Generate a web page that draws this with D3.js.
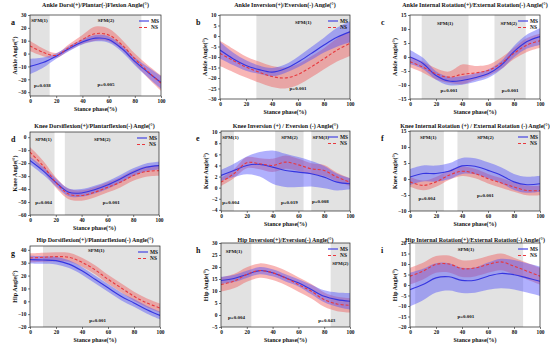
<!DOCTYPE html>
<html>
<head>
<meta charset="utf-8">
<script src="https://cdn.jsdelivr.net/npm/d3@7"></script>
<style>
  body { margin: 0; background: #fff; }
  text { font-family: "Liberation Serif", "Times New Roman", serif; font-weight: bold; fill: #111; }
  .axis path, .axis line { stroke: #222; stroke-width: 0.6; }
  .axis text { font-size: 5.4px; }
</style>
</head>
<body>
<div id="graph"></div>
<script>
// stance phase samples (%)
var phase = [0, 10, 20, 30, 40, 50, 60, 70, 80, 90, 100];

// a - ankle dorsi/plantar flexion
var aMS = [-10, -7, -2, 4, 9, 12, 11, 4, -6, -14.5, -22.5];
var aMSsd = [6, 4, 2, 2, 2, 2.5, 2.5, 2.5, 3, 4, 5];
var aNS = [6, 1, -1.5, 5, 11, 15.5, 14.5, 7, -4, -14, -23];
var aNSsd = [4, 3, 2, 2.5, 3.5, 5.5, 5, 4, 4, 5, 6];
// b - ankle inversion/eversion
var bMS = [-6.7, -10.8, -14, -16, -17.2, -15.6, -12.4, -8.4, -4.3, -0.6, 2];
var bMSsd = [4, 3, 2.5, 2, 2, 2, 2.5, 3, 3.5, 4.5, 5];
var bNS = [-8.3, -11.6, -14.8, -17.2, -19.3, -20, -18.3, -14.8, -10.8, -6.7, -3.5];
var bNSsd = [6, 5.5, 5, 5, 5, 5, 5, 5, 5, 5.5, 6];
// c - ankle int/ext rotation
var cMS = [0, -2.3, -6.6, -8.6, -8.4, -7.4, -6, -3, 1.9, 5.5, 7.3];
var cMSsd = [2.5, 2, 1.5, 1.5, 1.5, 1.5, 1.5, 1.5, 2, 2.5, 3];
var cNS = [-1.7, -3.6, -6, -7.2, -6.2, -5.7, -4.8, -2.3, 1.3, 4.3, 5.8];
var cNSsd = [2, 2, 2, 2, 3.5, 2.5, 2, 2, 2, 2.5, 2.5];
// d - knee dorsi/plantar flexion
var dMS = [-18, -25.8, -34.8, -42.5, -43, -40.5, -36.9, -32.2, -27, -23.2, -21.9];
var dMSsd = [3, 3, 3, 3, 3, 3, 3, 3, 3, 3, 3];
var dNS = [-11.6, -21.9, -34.8, -43.8, -45, -42.5, -38.7, -34.8, -29.6, -26.5, -25.8];
var dNSsd = [4, 4, 4, 4, 4, 4, 4, 4, 4, 4, 4];
// e - knee inversion/eversion
var eMS = [2.2, 3.1, 4, 4.2, 3.7, 3.1, 2.8, 2.5, 1.9, 1, 0.7];
var eMSsd = [1, 1.2, 1.6, 2.2, 3, 3, 2.7, 2.3, 2, 1.5, 1];
var eNS = [1, 2.5, 4.5, 4.3, 4, 4.6, 4.1, 3.4, 3.1, 1.9, 1];
var eNSsd = [0.7, 0.8, 1, 1, 1.2, 1.2, 1.1, 1, 1, 0.8, 0.7];
// f - knee int/ext rotation
var fMS = [0.6, 1.7, 1.7, 2.4, 4.1, 4, 2.7, 1.2, -0.9, -1.8, -1.5];
var fMSsd = [2.5, 2.5, 2.5, 2.5, 2.5, 2.5, 2.5, 2.5, 2.5, 2.5, 2.5];
var fNS = [-0.9, -2, -0.9, 1.2, 2.4, 1.7, 0.1, -1.2, -2.5, -3.6, -3.6];
var fNSsd = [1.5, 1.5, 1.5, 1.5, 1.5, 1.5, 1.5, 1.5, 1.5, 1.5, 1.5];
// g - hip flexion
var gMS = [32.4, 32.1, 31.6, 28.9, 23.7, 17.1, 10.5, 3.9, -1.3, -6.6, -11];
var gMSsd = [3, 3, 3, 3, 3, 3, 3, 3, 3, 3, 3];
var gNS = [33.7, 34.2, 34.7, 34.2, 30.3, 24.5, 17.1, 10.5, 3.9, -1.3, -5.3];
var gNSsd = [3.5, 3.5, 3.5, 3.5, 3.5, 3.5, 3.5, 3.5, 3.5, 3.5, 3.5];
// h - hip inversion/eversion
var hMS = [14.4, 15.2, 16.9, 18.5, 17.6, 15.5, 13.4, 10.6, 7.8, 6.4, 5.7];
var hMSsd = [1.5, 1.5, 1.5, 1.5, 1.5, 1.5, 1.5, 2, 2.5, 3, 3.5];
var hNS = [12.7, 14.1, 16.9, 18.5, 17.6, 15.5, 12.7, 9.9, 6.4, 4.6, 4];
var hNSsd = [3, 3, 3, 3, 3, 3, 3, 3, 3, 3, 3];
// i - hip int/ext rotation
var iMS = [-2.2, 0.2, 3.4, 3.9, 2.2, 2.3, 4.2, 5.5, 4.9, 3.4, 1.8];
var iMSsd = [8, 7.5, 7, 6.5, 6, 6, 6.5, 7, 7, 7, 7];
var iNS = [4.2, 6.6, 9.8, 10, 7.8, 8.1, 9.8, 11, 9, 6.6, 4.2];
var iNSsd = [4, 4, 4, 4, 4, 4, 4, 4, 4, 4, 4];

// significant SPM clusters (% stance)
var aSPM = [[0, 15], [38, 85]];
var bSPM = [[28, 100]];
var cSPM = [[9, 45], [65, 89]];
var dSPM = [[0, 19], [27, 100]];
var eSPM = [[0, 10], [42, 64], [70, 100]];
var fSPM = [[0, 26], [36.5, 100]];
var gSPM = [[10, 100]];
var hSPM = [[0, 23.5], [85, 100]];
var iSPM = [[4, 87]];

var xTicks = [0, 20, 40, 60, 80, 100];

var panels = [
  {id: "a", title: "Ankle Dorsi(+)/Plantar(-)Flexion Angle(°)", ylab: "Ankle Angle(°)",
   ms: aMS, mssd: aMSsd, ns: aNS, nssd: aNSsd, spm: aSPM,
   box: [30, 161, 15, 96], dom: [-33, 30], yt: d3.range(-30, 31, 10), ty: 7,
   notes: [["SPM(1)", 1, 26, "start"], ["SPM(2)", 58, 26, "middle"], ["p=0.038", 3, -25, "start"], ["p=0.005", 58, -24, "middle"]]},
  {id: "b", title: "Ankle Inversion(+)/Eversion(-) Angle(°)", ylab: "Ankle Angle(°)",
   ms: bMS, mssd: bMSsd, ns: bNS, nssd: bNSsd, spm: bSPM,
   box: [220, 350, 15, 99], dom: [-30, 10], yt: d3.range(-30, 11, 5), ty: 7,
   notes: [["SPM(1)", 64, 6.5, "middle"], ["p=0.001", 60, -25, "middle"]]},
  {id: "c", title: "Ankle Internal Rotation(+)/External Rotation(-) Angle(°)", ylab: "Ankle Angle(°)",
   ms: cMS, mssd: cMSsd, ns: cNS, nssd: cNSsd, spm: cSPM,
   box: [410, 540, 15, 99], dom: [-15, 15], yt: d3.range(-15, 16, 5), ty: 7,
   notes: [["SPM(1)", 27, 12, "middle"], ["SPM(2)", 76, 12, "middle"], ["p=0.001", 30, -12, "middle"], ["p=0.001", 77, -12, "middle"]]},
  {id: "d", title: "Knee Dorsiflexion(+)/Plantarflexion(-) Angle(°)", ylab: "Knee Angle(°)",
   ms: dMS, mssd: dMSsd, ns: dNS, nssd: dNSsd, spm: dSPM,
   box: [30, 159, 132, 215], dom: [-60, 4], yt: d3.range(-60, 1, 10), ty: 128,
   notes: [["SPM(1)", 4, -1.5, "start"], ["SPM(2)", 56, -1.5, "middle"], ["p=0.004", 4, -50.5, "start"], ["p=0.001", 63, -50.5, "middle"]]},
  {id: "e", title: "Knee Inversion (+) / Eversion (-) Angle(°)", ylab: "Knee Angle(°)",
   ms: eMS, mssd: eMSsd, ns: eNS, nssd: eNSsd, spm: eSPM,
   box: [221, 350, 131, 211], dom: [-4.2, 10.2], yt: d3.range(-4, 11, 2), ty: 128,
   notes: [["SPM(1)", 1, 9, "start"], ["SPM(2)", 53, 9, "middle"], ["SPM(3)", 71, 9, "start"], ["p=0.004", 1, -2.6, "start"], ["p=0.019", 53, -2.6, "middle"], ["p=0.008", 77, -2.4, "middle"]]},
  {id: "f", title: "Knee Internal Rotation (+) / External Rotation (-) Angle(°)", ylab: "Knee Angle(°)",
   ms: fMS, mssd: fMSsd, ns: fNS, nssd: fNSsd, spm: fSPM,
   box: [410, 540, 131, 211], dom: [-10, 15], yt: d3.range(-10, 16, 5), ty: 128,
   notes: [["SPM(1)", 14, 13, "middle"], ["SPM(2)", 58, 13, "middle"], ["p=0.004", 13, -6, "middle"], ["p=0.001", 58, -5, "middle"]]},
  {id: "g", title: "Hip Dorsiflexion(+)/Plantarflexion(-) Angle(°)", ylab: "Hip Angle(°)",
   ms: gMS, mssd: gMSsd, ns: gNS, nssd: gNSsd, spm: gSPM,
   box: [30, 160, 246, 327], dom: [-20, 43], yt: d3.range(-20, 41, 10), ty: 242,
   notes: [["SPM(1)", 51, 39.5, "middle"], ["p=0.001", 52, -15, "middle"]]},
  {id: "h", title: "Hip Inversion(+)/Eversion(-) Angle(°)", ylab: "Hip Angle(°)",
   ms: hMS, mssd: hMSsd, ns: hNS, nssd: hNSsd, spm: hSPM,
   box: [221, 350, 243, 327], dom: [-5, 30], yt: d3.range(-5, 31, 5), ty: 242,
   notes: [["SPM(1)", 10, 26.5, "middle"], ["SPM(2)", 92.5, 21.5, "middle"], ["p=0.004", 12, -1, "middle"], ["p=0.043", 82, -2, "middle"]]},
  {id: "i", title: "Hip Internal Rotation(+)/External Rotation(-) Angle(°)", ylab: "Hip Angle(°)",
   ms: iMS, mssd: iMSsd, ns: iNS, nssd: iNSsd, spm: iSPM,
   box: [410, 540, 243, 327], dom: [-20, 20], yt: d3.range(-20, 21, 5), ty: 242,
   notes: [["SPM(1)", 43, 17, "middle"], ["p=0.001", 43, -15, "middle"]]}
];

var svg = d3.select("#graph").append("svg")
    .attr("width", 550)
    .attr("height", 347);

panels.forEach(function(p, k) {
    var x = d3.scaleLinear().domain([0, 100]).range([p.box[0], p.box[1]]);
    var y = d3.scaleLinear().domain(p.dom).range([p.box[3], p.box[2]]);
    var g = svg.append("g");
    var clipId = "clip" + p.id;

    g.append("clipPath").attr("id", clipId)
      .append("rect")
        .attr("x", p.box[0]).attr("y", p.box[2])
        .attr("width", p.box[1] - p.box[0]).attr("height", p.box[3] - p.box[2]);

    // SPM shading
    g.selectAll(".spm").data(p.spm).enter().append("rect")
        .attr("x", function(d) { return x(d[0]); })
        .attr("y", p.box[2])
        .attr("width", function(d) { return x(d[1]) - x(d[0]); })
        .attr("height", p.box[3] - p.box[2])
        .style("fill", "#e2e2e2");

    var band = function(m, s) {
        return d3.area().curve(d3.curveCatmullRom)
            .x(function(d, j) { return x(phase[j]); })
            .y0(function(d, j) { return y(m[j] - s[j]); })
            .y1(function(d, j) { return y(m[j] + s[j]); });
    };
    var line = d3.line().curve(d3.curveCatmullRom)
        .x(function(d, j) { return x(phase[j]); })
        .y(function(d) { return y(d); });

    var plot = g.append("g").attr("clip-path", "url(#" + clipId + ")");
    plot.append("path").datum(p.ns).attr("d", band(p.ns, p.nssd))
        .style("fill", "rgba(240,90,90,0.45)");
    plot.append("path").datum(p.ms).attr("d", band(p.ms, p.mssd))
        .style("fill", "rgba(80,80,250,0.45)");
    plot.append("path").datum(p.ms).attr("d", line)
        .style("fill", "none").style("stroke", "#3535e0").style("stroke-width", 1.1);
    plot.append("path").datum(p.ns).attr("d", line)
        .style("fill", "none").style("stroke", "#e8383d").style("stroke-width", 1.1)
        .style("stroke-dasharray", "3,2");

    // notes
    p.notes.forEach(function(n) {
        g.append("text")
            .attr("x", x(n[1])).attr("y", y(n[2]))
            .attr("dy", "0.35em")
            .attr("text-anchor", n[3])
            .style("font-size", "5px")
            .text(n[0]);
    });

    // axes
    g.append("g").attr("class", "axis")
        .attr("transform", "translate(0," + p.box[3] + ")")
        .call(d3.axisBottom(x).tickValues(xTicks).tickSize(2).tickPadding(1.5));
    g.append("g").attr("class", "axis")
        .attr("transform", "translate(" + p.box[0] + ",0)")
        .call(d3.axisLeft(y).tickValues(p.yt).tickSize(2).tickPadding(1.5));
    g.selectAll(".axis .domain").remove();

    // frame
    g.append("rect")
        .attr("x", p.box[0]).attr("y", p.box[2])
        .attr("width", p.box[1] - p.box[0]).attr("height", p.box[3] - p.box[2])
        .style("fill", "none").style("stroke", "#222").style("stroke-width", 0.7);

    // legend
    var lx = p.box[1] - 22, ly = p.box[2] + 6;
    g.append("line").attr("x1", lx).attr("x2", lx + 10).attr("y1", ly).attr("y2", ly)
        .style("stroke", "#3535e0").style("stroke-width", 1.1);
    g.append("line").attr("x1", lx).attr("x2", lx + 10).attr("y1", ly + 6.5).attr("y2", ly + 6.5)
        .style("stroke", "#e8383d").style("stroke-width", 1.1).style("stroke-dasharray", "3,2");
    g.append("text").attr("x", lx + 12).attr("y", ly).attr("dy", "0.35em")
        .style("font-size", "5.4px").text("MS");
    g.append("text").attr("x", lx + 12).attr("y", ly + 6.5).attr("dy", "0.35em")
        .style("font-size", "5.4px").text("NS");

    // titles and labels
    g.append("text")
        .attr("x", (p.box[0] + p.box[1]) / 2).attr("y", p.ty)
        .attr("text-anchor", "middle")
        .style("font-size", "6px")
        .text(p.title);
    g.append("text")
        .attr("x", (p.box[0] + p.box[1]) / 2).attr("y", p.box[3] + 15)
        .attr("text-anchor", "middle")
        .style("font-size", "6px")
        .text("Stance phase(%)");
    g.append("text")
        .attr("transform", "translate(" + (p.box[0] - 13) + "," + ((p.box[2] + p.box[3]) / 2) + ") rotate(-90)")
        .attr("text-anchor", "middle")
        .style("font-size", "6px")
        .text(p.ylab);
    var lxp = [11, 196, 381][k % 3];
    g.append("text")
        .attr("x", lxp).attr("y", p.box[2] + 10)
        .style("font-size", "8px")
        .text(p.id);
});
</script>
</body>
</html>
